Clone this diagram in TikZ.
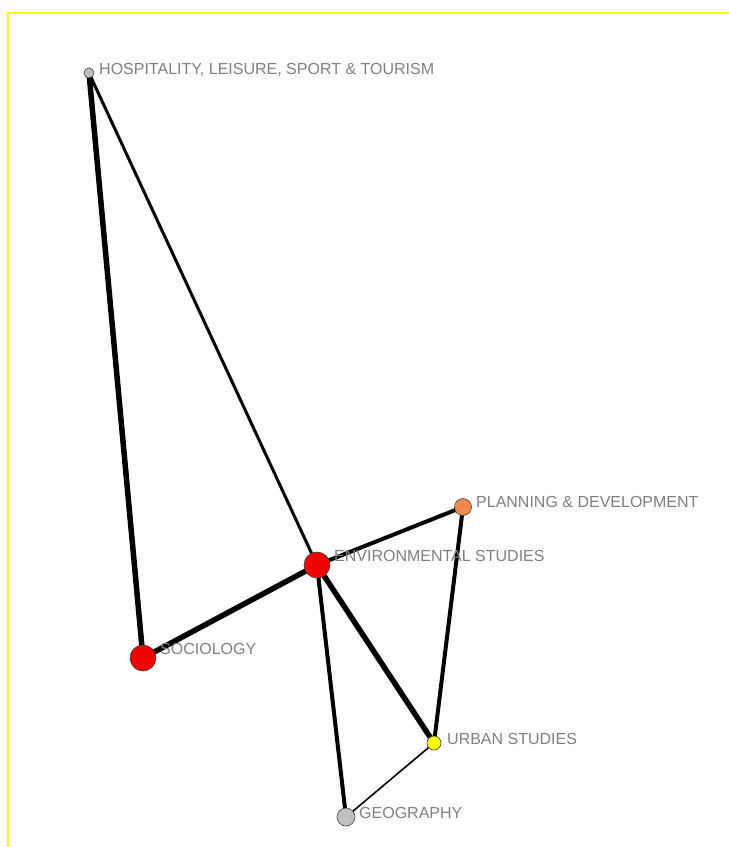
\documentclass[tikz,border=0pt]{standalone}
\usepackage{fontspec}
\setmainfont{Liberation Sans}
\definecolor{lbl}{RGB}{128,128,128}
\definecolor{nred}{RGB}{240,0,0}
\definecolor{norange}{RGB}{240,135,80}
\definecolor{nyellow}{RGB}{255,255,0}
\definecolor{ngray}{RGB}{192,192,192}
\definecolor{frame}{RGB}{255,255,0}
\begin{document}
\begin{tikzpicture}[x=1pt,y=-1pt,
  vert/.style={circle,draw=black!75,line width=0.6pt,inner sep=0pt},
  lab/.style={anchor=west,inner sep=0pt,text=lbl,font=\fontsize{16}{16}\selectfont},
  e1/.style={line width=1.6pt},
  e2/.style={line width=3pt},
  e3/.style={line width=4pt},
  e4/.style={line width=5.5pt}]
\useasboundingbox (0,0) rectangle (729,847);
\fill[white] (0,0) rectangle (729,847);
\draw[frame,line width=2pt] (8,847) -- (8,13) -- (729,13);
% nodes
\coordinate (h) at (89,73);
\coordinate (p) at (463,507);
\coordinate (e) at (317,565);
\coordinate (s) at (143,658);
\coordinate (u) at (434,743);
\coordinate (g) at (346,817);
% edges
\draw[e4] (h) -- (s);
\draw[e2] (h) -- (e);
\draw[e3] (e) -- (p);
\draw[e4] (e) -- (s);
\draw[e4] (e) -- (u);
\draw[e3] (e) -- (g);
\draw[e3] (p) -- (u);
\draw[e1] (u) -- (g);
% vertices
\node[vert,fill=ngray,minimum size=10pt] (nh) at (h) {};
\node[vert,fill=norange,minimum size=17pt] (np) at (p) {};
\node[vert,fill=nred,minimum size=26pt] (ne) at (e) {};
\node[vert,fill=nred,minimum size=26pt] (ns) at (s) {};
\node[vert,fill=nyellow,minimum size=14pt] (nu) at (u) {};
\node[vert,fill=ngray,minimum size=18pt] (ng) at (g) {};
% labels
\node[lab] (lh) at (99,70) {HOSPITALITY, LEISURE, SPORT \& TOURISM};
\node[lab] (lp) at (476,502) {PLANNING \& DEVELOPMENT};
\node[lab] (le) at (334,556) {ENVIRONMENTAL STUDIES};
\node[lab] (ls) at (160,649) {SOCIOLOGY};
\node[lab] (lu) at (447,739) {URBAN STUDIES};
\node[lab] (lg) at (359,813) {GEOGRAPHY};
\end{tikzpicture}
\end{document}
